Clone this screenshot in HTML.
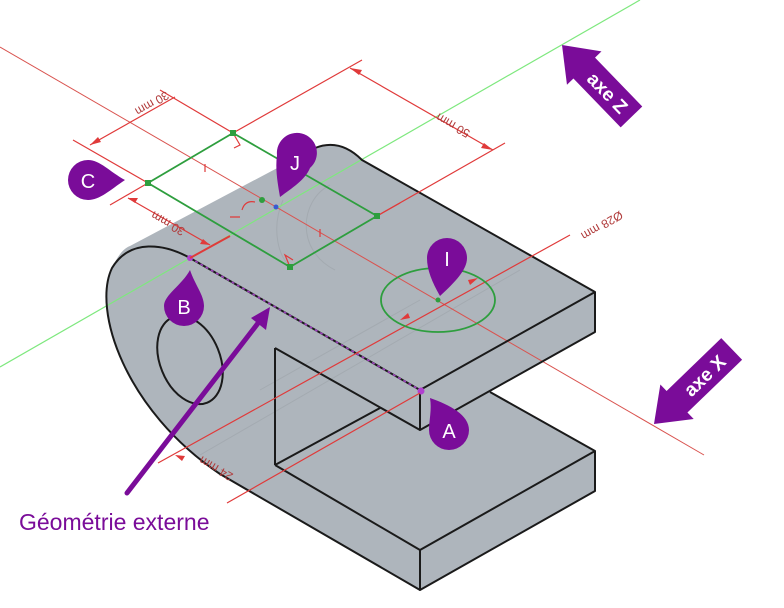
<!DOCTYPE html>
<html><head><meta charset="utf-8"><style>
html,body{margin:0;padding:0;background:#fff;width:784px;height:608px;overflow:hidden}
svg{display:block}
</style></head><body>
<svg width="784" height="608" viewBox="0 0 784 608" xmlns="http://www.w3.org/2000/svg" font-family="Liberation Sans, sans-serif">
<!-- body fill -->
<path d="M130,246 L315,148 Q340,138 362,160 L595,292 L595,332 L490,392 L595,451 L595,491 L420,590 L220,474 C125,410 92,310 112,268 C118,255 124,248 130,246 Z" fill="#aeb5bc"/>
<!-- hidden lines -->
<g stroke="#9aa0a6" stroke-width="1" fill="none" opacity="0.5">
<path d="M260,390 L420,300"/>
<path d="M200,455 L520,270"/>
<path d="M330,185 C300,200 295,250 335,270"/>
<path d="M283,200 C270,230 280,260 290,265"/>
</g>
<!-- long red line -->
<line x1="0" y1="47" x2="704" y2="455" stroke="#d9534f" stroke-width="1"/>
<!-- green line -->
<line x1="0" y1="367" x2="640" y2="0" stroke="#7ee87e" stroke-width="1.2"/>
<!-- black outlines -->
<g stroke="#1a1a1a" stroke-width="2" fill="none" stroke-linejoin="round">
<path d="M190,258 C165,244 130,238 112,268 C92,310 125,410 220,474 L420,590"/>
<path d="M315,148 Q340,138 362,160 L595,292 L595,332 L420,430 L420,390 L595,292"/>
<path d="M275,348 L275,465 M275,348 L420,430 M275,465 L380,408"/>
<path d="M275,465 L420,550 L595,451 L595,491 L420,590 L420,550 M490,392 L595,451"/>
<ellipse cx="190" cy="360" rx="30" ry="46" transform="rotate(-22 190 360)"/>
</g>
<line x1="190" y1="258" x2="420" y2="390" stroke="#1a1a1a" stroke-width="2"/>
<line x1="190" y1="258" x2="420" y2="390" stroke="#a040c0" stroke-width="1.5" stroke-dasharray="3 3"/>
<circle cx="190" cy="258" r="3" fill="#b040d0"/>
<circle cx="421" cy="391" r="3.5" fill="#b040d0"/>
<!-- red dimension lines -->
<g stroke="#e03a3a" stroke-width="1.2" fill="none">
<path d="M233,133 L362,60 M377,216 L505,143 M350,68 L493,150"/>
<path d="M233,133 L160,90 M148,183 L73,140 M90,145 L175,97"/>
<path d="M148,183 L110,205 M128,198 L210,245"/>
<path d="M190,258 L230,236" stroke-width="2"/>
<path d="M377,216 L400,203"/>
<path d="M158,463 L570,235 M227,503 L420,393"/>
<path d="M233,133 L240,145 L234,148"/>
<path d="M290,267 L285,255 L293,260"/>
<path d="M242,210 Q245,200 255,202 M230,217 L240,217"/>
<path d="M205,164 L205,172 M320,229 L320,237"/>
</g>
<g fill="#e03a3a">
<path d="M350,68 l12,2 l-3,5 z"/><path d="M493,150 l-12,-2 l3,-5 z"/>
<path d="M90,145 l8,-8 l3,5 z"/><path d="M128,198 l10,0 l-3,5 z"/><path d="M210,245 l-10,-1 l3,-5 z"/>
<path d="M400,320 l8,-7 l2,5 z"/><path d="M478,278 l-8,7 l-2,-5 z"/>
<path d="M175,455 l10,1 l-3,5 z"/>
</g>
<!-- dimension text -->
<g fill="#b03a3a" font-size="12">
<text transform="translate(455,122) rotate(210)" text-anchor="middle">50 mm</text>
<text transform="translate(150,100) rotate(150)" text-anchor="middle">30 mm</text>
<text transform="translate(170,220) rotate(210)" text-anchor="middle">30 mm</text>
<text transform="translate(600,222) rotate(150)" text-anchor="middle">Ø28 mm</text>
<text transform="translate(218,465) rotate(210)" text-anchor="middle">24 mm</text>
</g>
<!-- green sketch -->
<g stroke="#2e9e3e" stroke-width="1.8" fill="none">
<path d="M233,133 L148,183 L290,267 L377,216 Z"/>
<ellipse cx="438" cy="300" rx="57" ry="32"/>
</g>
<g fill="#2e9e3e">
<rect x="230" y="130" width="6" height="6"/><rect x="145" y="180" width="6" height="6"/>
<rect x="287" y="264" width="6" height="6"/><rect x="374" y="213" width="6" height="6"/>
<circle cx="262" cy="200" r="3"/><circle cx="438" cy="300" r="2.5"/>
</g>
<circle cx="276" cy="207" r="2.5" fill="#3a5ad0"/>
<!-- purple markers -->
<g fill="#7a0c99">
<path d="M88,160 A20,20 0 1 0 88,200 C100,200 110,190 125,180 C110,172 100,160 88,160 Z"/>
<path d="M277,155 A20,20 0 1 1 310,168 C305,180 292,188 280,197 C278,185 275,170 277,155 Z"/>
<path d="M164,306 A20,20 0 1 0 204,306 C204,295 195,285 190,270 C182,285 164,295 164,306 Z"/>
<path d="M427,258 A20,20 0 1 1 467,258 C467,270 455,282 440,296 C432,282 427,270 427,258 Z"/>
<path d="M429,430 A20,20 0 1 0 469,430 C469,415 450,405 430,398 C432,410 429,420 429,430 Z"/>
</g>
<g fill="#fff" font-size="20" text-anchor="middle">
<text x="88" y="188">C</text><text x="295" y="170">J</text><text x="184" y="314">B</text>
<text x="447" y="266">I</text><text x="449" y="438">A</text>
</g>
<!-- axe arrows -->
<g transform="translate(562,45) rotate(46)" fill="#7a0c99">
<path d="M0,0 L32,-24 L32,-15 L100,-15 L100,15 L32,15 L32,24 Z"/>
<text x="66" y="7" fill="#fff" font-size="19" font-weight="bold" text-anchor="middle">axe Z</text>
</g>
<g transform="translate(654,424) rotate(-44)" fill="#7a0c99">
<path d="M0,0 L32,-24 L32,-15 L108,-15 L108,15 L32,15 L32,24 Z"/>
<text x="70" y="7" fill="#fff" font-size="19" font-weight="bold" text-anchor="middle">axe X</text>
</g>
<!-- geometry arrow -->
<line x1="127" y1="493" x2="262" y2="318" stroke="#7a0c99" stroke-width="5" stroke-linecap="round"/>
<path d="M270,307 L251,318 L266,330 Z" fill="#7a0c99"/>
<text x="19" y="530" fill="#7a0c99" font-size="23">Géométrie externe</text>
</svg>
</body></html>
